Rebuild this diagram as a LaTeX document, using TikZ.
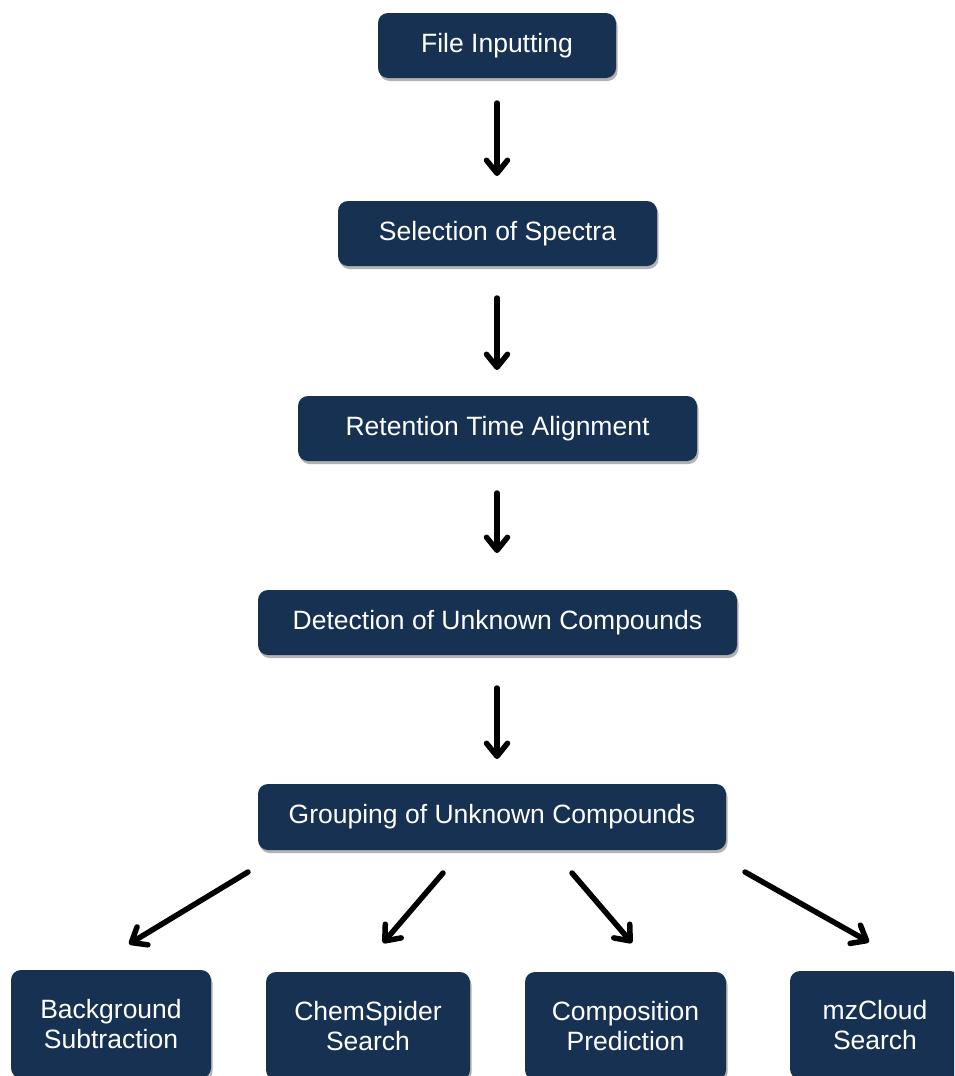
\documentclass[tikz,border=0pt]{standalone}
\usepackage{fontspec}
\setmainfont{Liberation Sans}
\usetikzlibrary{arrows.meta,shadows}
\definecolor{boxnavy}{HTML}{163152}
\tikzset{
  box/.style={draw=none, fill=boxnavy, rounded corners=10pt, text=white,
    font=\fontsize{26.5}{30}\selectfont, align=center, inner sep=0pt,
    drop shadow={shadow xshift=1.5pt, shadow yshift=-3pt, opacity=0.3, fill=black}},
  arr/.style={line width=5.5pt, line cap=round, -{Straight Barb[length=13pt,width=21pt,round]}}
}
\begin{document}
\begin{tikzpicture}[x=1pt,y=-1pt]
\useasboundingbox (0,0) rectangle (954,1076);
\clip (0,0) rectangle (954,1076);
\node[box, minimum width=238pt, minimum height=65pt] (n1) at (497,45.5) {File Inputting};
\node[box, minimum width=319pt, minimum height=65pt] (n2) at (497.5,233.5) {Selection of Spectra};
\node[box, minimum width=399pt, minimum height=65pt] (n3) at (497.5,428.5) {Retention Time Alignment};
\node[box, minimum width=479pt, minimum height=65pt] (n4) at (497.5,622.5) {Detection of Unknown Compounds};
\node[box, minimum width=468pt, minimum height=66pt] (n5) at (492,817) {Grouping of Unknown Compounds};
\node[box, minimum width=200pt, minimum height=108pt] (b1) at (111,1024) {Background\\Subtraction};
\node[box, minimum width=204pt, minimum height=108pt] (b2) at (368,1026) {ChemSpider\\Search};
\node[box, minimum width=201pt, minimum height=108pt] (b3) at (625.5,1026) {Composition\\Prediction};
\node[box, minimum width=170pt, minimum height=108pt] (b4) at (875,1025) {mzCloud\\Search};
% arrow end points
\coordinate (a1s) at (497,103); \coordinate (a1e) at (497,176);
\coordinate (a2s) at (497,298); \coordinate (a2e) at (497,370);
\coordinate (a3s) at (497,493); \coordinate (a3e) at (497,553);
\coordinate (a4s) at (497,688); \coordinate (a4e) at (497,759);
\coordinate (d1s) at (248,872); \coordinate (d1e) at (129,944);
\coordinate (d2s) at (443,873); \coordinate (d2e) at (383,943);
\coordinate (d3s) at (572,873); \coordinate (d3e) at (632,943);
\coordinate (d4s) at (745,872); \coordinate (d4e) at (869,942);
\draw[arr] (a1s) -- (a1e);
\draw[arr] (a2s) -- (a2e);
\draw[arr] (a3s) -- (a3e);
\draw[arr] (a4s) -- (a4e);
\draw[arr] (d1s) -- (d1e);
\draw[arr] (d2s) -- (d2e);
\draw[arr] (d3s) -- (d3e);
\draw[arr] (d4s) -- (d4e);
\end{tikzpicture}
\end{document}
